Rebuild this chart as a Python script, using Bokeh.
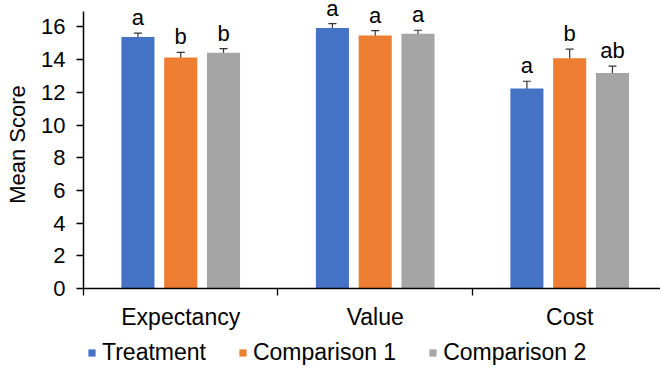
from bokeh.plotting import figure
from bokeh.layouts import column
from bokeh.models import ColumnDataSource, FixedTicker, Legend, LegendItem, Whisker, TeeHead, Range1d
from bokeh.core.properties import value
from bokeh.embed import file_html
from bokeh.resources import INLINE
import numpy as np

categories = ["Expectancy", "Value", "Cost"]
series_names = ["Treatment", "Comparison 1", "Comparison 2"]
treatment = [15.38, 15.93, 12.24]
comparison1 = [14.13, 15.48, 14.09]
comparison2 = [14.43, 15.58, 13.18]
treatment_err = [0.25, 0.28, 0.44]
comparison1_err = [0.32, 0.30, 0.55]
comparison2_err = [0.25, 0.22, 0.42]
treatment_letters = ["a", "a", "a"]
comparison1_letters = ["b", "a", "b"]
comparison2_letters = ["b", "a", "ab"]
y_ticks = [0, 2, 4, 6, 8, 10, 12, 14, 16]

colors = ["#4472C4", "#ED7D31", "#A5A5A5"]
offsets = [-0.22, 0.0, 0.22]
FONT = "Liberation Sans"
FS = "22px"
FS_BIG = "23px"

p = figure(width=660, height=332, output_backend="svg", toolbar_location=None,
           x_range=Range1d(0, 2.967), y_range=Range1d(0, 17.62),
           min_border_left=83, min_border_right=0, min_border_top=0,
           min_border_bottom=36, outline_line_color=None)
p.xgrid.grid_line_color = None
p.ygrid.grid_line_color = None

centers = np.arange(len(categories)) + 0.5
vals = [treatment, comparison1, comparison2]
errs = [treatment_err, comparison1_err, comparison2_err]
lets = [treatment_letters, comparison1_letters, comparison2_letters]

for v, e, l, c, off in zip(vals, errs, lets, colors, offsets):
    v = np.array(v)
    e = np.array(e)
    src = ColumnDataSource(dict(x=centers + off, top=v, lo=v - e, hi=v + e, lab=l))
    p.vbar(x="x", top="top", width=0.17, source=src, fill_color=c, line_color=None)
    w = Whisker(base="x", lower="lo", upper="hi", source=src,
                line_color="#333333", line_width=1.2,
                upper_head=TeeHead(size=8, line_color="#333333", line_width=1.2),
                lower_head=TeeHead(size=8, line_color="#333333", line_width=1.2))
    p.add_layout(w)
    p.text(x="x", y="hi", text="lab", source=src, text_align="center",
           text_baseline="bottom", y_offset=-3, text_font=value(FONT),
           text_font_size=FS, text_color="#000000")

# axes
p.yaxis.ticker = FixedTicker(ticks=y_ticks)
p.yaxis.bounds = (0, 16.95)
p.yaxis.axis_label = "Mean Score"
p.yaxis.axis_label_text_font = FONT
p.yaxis.axis_label_text_font_size = FS
p.yaxis.axis_label_text_font_style = "normal"
p.yaxis.axis_label_text_color = "#000000"
p.yaxis.axis_label_standoff = 8
p.yaxis.major_label_text_font = FONT
p.yaxis.major_label_text_font_size = FS
p.yaxis.major_label_text_color = "#000000"
p.yaxis.axis_line_color = "#000000"
p.yaxis.axis_line_width = 1.5
p.yaxis.major_tick_line_color = "#000000"
p.yaxis.major_tick_line_width = 1.3
p.yaxis.major_tick_in = 0
p.yaxis.major_tick_out = 7
p.yaxis.minor_tick_line_color = None
p.yaxis.major_label_standoff = 11

p.xaxis.ticker = FixedTicker(ticks=list(centers), minor_ticks=list(np.arange(len(categories) + 1)))
p.xaxis.major_label_overrides = {float(cx): cat for cx, cat in zip(centers, categories)}
p.xaxis.major_label_text_font = FONT
p.xaxis.major_label_text_font_size = FS_BIG
p.xaxis.major_label_text_color = "#000000"
p.xaxis.major_tick_line_color = None
p.xaxis.major_tick_in = 0
p.xaxis.major_tick_out = 0
p.xaxis.minor_tick_line_color = "#000000"
p.xaxis.minor_tick_line_width = 1.3
p.xaxis.minor_tick_in = 0
p.xaxis.minor_tick_out = 7
p.xaxis.axis_line_color = "#000000"
p.xaxis.axis_line_width = 1.5
p.xaxis.major_label_standoff = 8

# legend strip
lg = figure(width=660, height=36, output_backend="svg", toolbar_location=None,
            x_range=Range1d(0, 1), y_range=Range1d(0, 1),
            x_axis_type=None, y_axis_type=None, min_border=0,
            outline_line_color=None)
lg.xgrid.grid_line_color = None
lg.ygrid.grid_line_color = None
items = []
for name, c in zip(series_names, colors):
    r = lg.vbar(x=[-5], top=[0], width=0.1, fill_color=c, line_color=None)
    items.append(LegendItem(label=name, renderers=[r]))
legend = Legend(items=items, orientation="horizontal", location=(4, 2),
                label_text_font=FONT, label_text_font_size=FS_BIG,
                label_text_color="#000000", glyph_width=9, glyph_height=9,
                label_standoff=6, spacing=32, padding=0, margin=0,
                border_line_color=None, background_fill_alpha=0)
lg.add_layout(legend)

layout = column(p, lg, spacing=0)
open("out.html", "w").write(file_html(layout, INLINE))
